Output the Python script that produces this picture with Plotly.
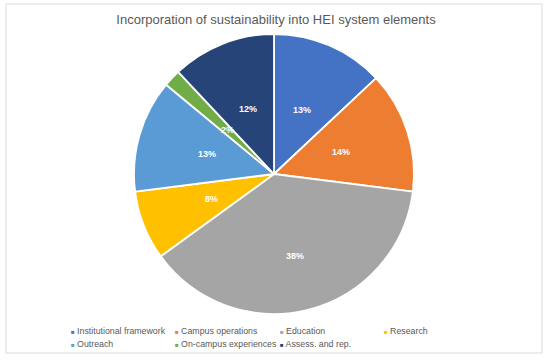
import math
import plotly.graph_objects as go

categories = ["Institutional framework", "Campus operations", "Education", "Research",
              "Outreach", "On-campus experiences", "Assess. and rep."]
values = [13, 14, 38, 8, 13, 2, 12]
colors = ["#4472C4", "#ED7D31", "#A5A5A5", "#FFC000", "#5B9BD5", "#70AD47", "#264478"]
title_text = "Incorporation of sustainability into HEI system elements"

W, H = 550, 360
cx, cy, r = 274, 174, 140
dom_x = [(cx - r) / W, (cx + r) / W]
dom_y = [(H - cy - r) / H, (H - cy + r) / H]

fig = go.Figure()
fig.add_trace(go.Pie(
    labels=categories,
    values=values,
    sort=False,
    direction="clockwise",
    rotation=0,
    marker=dict(colors=colors, line=dict(color="white", width=1.8)),
    textinfo="none",
    showlegend=False,
    domain=dict(x=dom_x, y=dom_y),
))
# empty helper trace so that hidden cartesian axes exist over the pie
fig.add_trace(go.Scatter(x=[], y=[], showlegend=False, hoverinfo="skip"))

annotations = []
# percentage labels, placed at mid-angle of each slice via the hidden axes
total = sum(values)
cum = 0
for v in values:
    mid = (cum + v / 2) / total * 2 * math.pi
    cum += v
    f = 0.45 + 0.4 * v / total
    annotations.append(dict(
        x=f * math.sin(mid), y=f * math.cos(mid), xref="x", yref="y",
        showarrow=False, xanchor="center", yanchor="middle",
        text=f"{v}%",
        font=dict(family="Liberation Sans", size=9, color="white", weight="bold"),
    ))

# legend drawn as annotations (4 columns)
col_x0, col_dx = 69, 104.3
row_y0, row_dy = 330.7, 13.6
for i, (name, c) in enumerate(zip(categories, colors)):
    col, row = i % 4, i // 4
    annotations.append(dict(
        x=(col_x0 + col * col_dx) / W, y=1 - (row_y0 + row * row_dy) / H,
        xref="paper", yref="paper", xanchor="left", yanchor="middle",
        showarrow=False,
        text=f'<span style="color:{c};font-size:6px">■</span> {name}',
        font=dict(family="Liberation Sans", size=8.8, color="#595959"),
    ))

fig.update_layout(
    width=W, height=H,
    margin=dict(l=0, r=0, t=0, b=0),
    paper_bgcolor="white", plot_bgcolor="rgba(0,0,0,0)",
    xaxis=dict(visible=False, range=[-1, 1], domain=dom_x, fixedrange=True),
    yaxis=dict(visible=False, range=[-1, 1], domain=dom_y, fixedrange=True),
    title=dict(text=title_text, x=276 / W, xanchor="center", y=1 - 19 / H, yanchor="middle",
               font=dict(family="Liberation Sans", size=13, color="#595959")),
    annotations=annotations,
    shapes=[dict(type="rect", xref="paper", yref="paper",
                 x0=6 / W, x1=542 / W, y0=1 - 353 / H, y1=1 - 4 / H,
                 line=dict(color="#d9d9d9", width=1), fillcolor="rgba(0,0,0,0)")],
)

fig.write_html("out.html", config={"displayModeBar": False},
               post_script="document.body.style.margin='0px';")
